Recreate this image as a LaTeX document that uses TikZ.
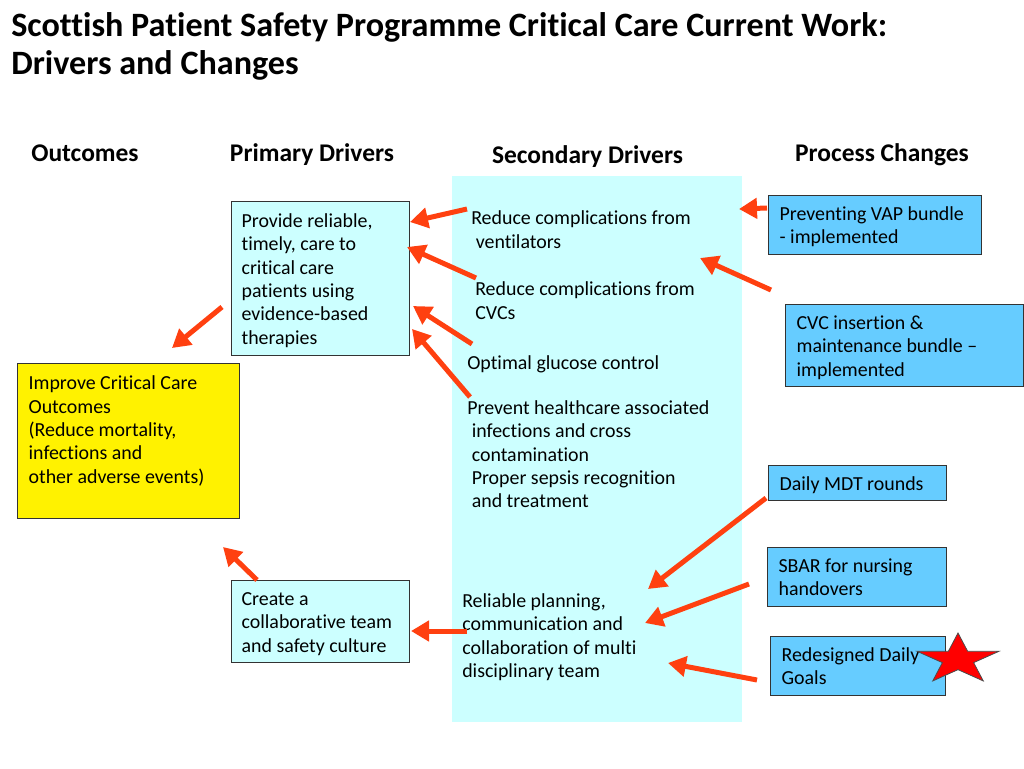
\documentclass[tikz,border=0pt]{standalone}
\usepackage{fontspec}
\setmainfont{Carlito}[Ligatures={TeX,NoCommon}]
\usepackage{tikz}
\usetikzlibrary{arrows.meta}
\definecolor{pale}{RGB}{204,255,255}
\definecolor{sky}{RGB}{102,204,255}
\definecolor{flame}{RGB}{255,64,16}
\newcommand{\bodyfont}{\fontsize{14.93}{17.6}\selectfont}
\newcommand{\topstrut}{\rule{0pt}{16pt}}
\tikzstyle{box}=[draw=black!80,line width=0.9pt,anchor=north west,align=flush left,inner ysep=0pt,font=\bodyfont,execute at begin node=\topstrut,execute at end node=\strut]
\tikzstyle{driver}=[box,fill=pale,inner xsep=7.5pt]
\tikzstyle{outcome}=[box,fill=yellow,inner xsep=8.25pt]
\tikzstyle{change}=[box,fill=sky,inner xsep=8.25pt]
\tikzstyle{secondary}=[anchor=north west,align=left,inner sep=0pt,font=\bodyfont,execute at begin node=\strut]
\tikzstyle{heading}=[anchor=base,inner sep=0pt,font=\fontsize{19.1}{23}\selectfont\bfseries]
\tikzstyle{headline}=[anchor=base west,inner sep=0pt,font=\fontsize{25.6}{30}\selectfont\bfseries]
\tikzstyle{arrow}=[draw=flame,line width=3.75pt,-{Triangle[length=13.5pt,width=15pt]}]
\tikzstyle{redstar}=[fill=red,draw=black!70,line width=0.6pt]

\begin{document}
\begin{tikzpicture}[x=0.75pt,y=-0.75pt]
    \useasboundingbox[fill=white] (0,0) rectangle (1024,768);
    % title and column headings
    \node[headline] (title) at (11,36) {Scottish Patient Safety Programme Critical Care Current Work:};
    \node[headline] (subtitle) at (11,74) {Drivers and Changes};
    \foreach \pos/\txt/\name in {{(85,161)/Outcomes/houtcomes}, {(312,161)/Primary Drivers/hprimary},
        {(587.5,163)/Secondary Drivers/hsecondary}, {(882,161)/Process Changes/hprocess}}
        \node[heading] (\name) at \pos {\txt};
    % secondary drivers column
    \node[fill=pale,anchor=north west,inner sep=0pt,minimum width=217.5pt,minimum height=409.5pt] (panel) at (452,176) {};
    \node[secondary] (vent) at (471,210.6) {Reduce complications from\\~ventilators};
    \node[secondary] (cvcs) at (475,281.6) {Reduce complications from\\CVCs};
    \node[secondary] (glucose) at (467,353) {Optimal glucose control};
    \node[secondary] (infection) at (467,400) {Prevent healthcare associated\\~infections and cross\\~contamination\\~Proper sepsis recognition\\~and treatment};
    \node[secondary] (planning) at (462,593) {Reliable planning,\\communication and\\collaboration of multi\\disciplinary team};
    % outcome and primary drivers
    \node[outcome,text width=150pt,minimum height=116.25pt] (outcome) at (17,363)
        {Improve Critical Care\\Outcomes\\(Reduce mortality,\\infections and\\other adverse events)\\};
    \node[driver,text width=118.5pt,minimum height=115.5pt] (care) at (231,201)
        {Provide reliable,\\timely, care to\\critical care\\patients using\\evidence-based\\therapies};
    \node[driver,text width=118.5pt,minimum height=61.5pt] (team) at (231,580)
        {Create a\\collaborative team\\and safety culture};
    % process changes
    \node[change,text width=143.25pt,minimum height=44.25pt] (vap) at (768,195) {Preventing VAP bundle\\- implemented};
    \node[change,text width=162pt,minimum height=61.5pt] (cvc) at (785,304) {CVC insertion \&\\maintenance bundle –\\implemented};
    \node[change,text width=117pt,minimum height=26.25pt] (mdt) at (768,465) {Daily MDT rounds};
    \node[change,text width=117.75pt,minimum height=44.25pt] (sbar) at (767,547) {SBAR for nursing\\handovers};
    \node[change,text width=114.75pt,minimum height=44.25pt] (goals) at (770,636) {Redesigned Daily\\Goals};
    % arrow ends
    \coordinate (t1) at (467,209);   \coordinate (h1) at (410,222);
    \coordinate (t2) at (476,278);   \coordinate (h2) at (407,247);
    \coordinate (t3) at (472,344);   \coordinate (h3) at (413,306);
    \coordinate (t4) at (470,397);   \coordinate (h4) at (412,329);
    \coordinate (t5) at (222,307);   \coordinate (h5) at (172,348);
    \coordinate (t6) at (257,580);   \coordinate (h6) at (223,547);
    \coordinate (t7) at (467,631);   \coordinate (h7) at (411,631);
    \coordinate (t8) at (767,208);   \coordinate (h8) at (739,209);
    \coordinate (t9) at (771,290);   \coordinate (h9) at (700,258);
    \coordinate (t10) at (766,498);  \coordinate (h10) at (648,589);
    \coordinate (t11) at (749,584);  \coordinate (h11) at (645,623);
    \coordinate (t12) at (757,680);  \coordinate (h12) at (668,663);
    \foreach \tail/\tip in {t1/h1, t2/h2, t3/h3, t4/h4, t5/h5, t6/h6,
        t7/h7, t8/h8, t9/h9, t10/h10, t11/h11, t12/h12}
        \path[arrow] (\tail) -- (\tip);
    % star on the daily goals
    \draw[redstar,shift={(958,659.5)}] (0,-26.5)
        \foreach \a/\r in {36/0.382,72/1,108/0.382,144/1,180/0.382,216/1,252/0.382,288/1,324/0.382}
            { -- ({43*\r*sin(\a)},{-26.5*\r*cos(\a)}) } -- cycle;
\end{tikzpicture}
\end{document}
